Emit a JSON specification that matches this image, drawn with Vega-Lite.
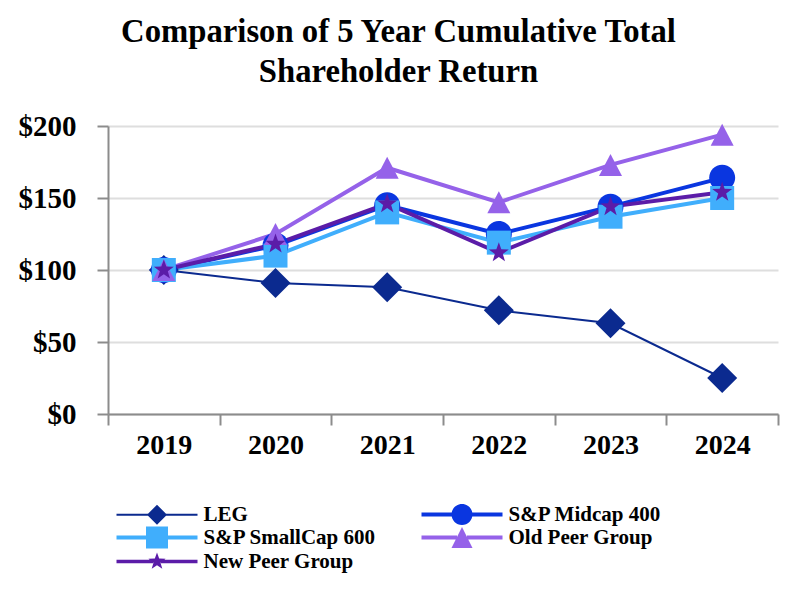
{
  "$schema": "https://vega.github.io/schema/vega-lite/v6.json",
  "width": 670,
  "height": 288,
  "autosize": {"type": "none"},
  "padding": {"left": 108, "top": 126, "right": 22, "bottom": 186},
  "background": "white",
  "title": {
    "text": ["Comparison of 5 Year Cumulative Total", "Shareholder Return"],
    "font": "Liberation Serif",
    "fontSize": 32.7,
    "fontWeight": "bold",
    "color": "black",
    "lineHeight": 40,
    "anchor": "middle",
    "frame": "bounds",
    "offset": 23
  },
  "data": {
    "values": [
      {"series": "LEG", "year": "2019", "value": 100},
      {"series": "LEG", "year": "2020", "value": 91},
      {"series": "LEG", "year": "2021", "value": 88},
      {"series": "LEG", "year": "2022", "value": 72},
      {"series": "LEG", "year": "2023", "value": 63},
      {"series": "LEG", "year": "2024", "value": 25},
      {"series": "S&P Midcap 400", "year": "2019", "value": 100},
      {"series": "S&P Midcap 400", "year": "2020", "value": 117},
      {"series": "S&P Midcap 400", "year": "2021", "value": 145},
      {"series": "S&P Midcap 400", "year": "2022", "value": 125},
      {"series": "S&P Midcap 400", "year": "2023", "value": 144},
      {"series": "S&P Midcap 400", "year": "2024", "value": 164},
      {"series": "S&P SmallCap 600", "year": "2019", "value": 100},
      {"series": "S&P SmallCap 600", "year": "2020", "value": 110},
      {"series": "S&P SmallCap 600", "year": "2021", "value": 140},
      {"series": "S&P SmallCap 600", "year": "2022", "value": 119},
      {"series": "S&P SmallCap 600", "year": "2023", "value": 137},
      {"series": "S&P SmallCap 600", "year": "2024", "value": 150},
      {"series": "Old Peer Group", "year": "2019", "value": 100},
      {"series": "Old Peer Group", "year": "2020", "value": 125},
      {"series": "Old Peer Group", "year": "2021", "value": 171},
      {"series": "Old Peer Group", "year": "2022", "value": 147},
      {"series": "Old Peer Group", "year": "2023", "value": 173},
      {"series": "Old Peer Group", "year": "2024", "value": 194},
      {"series": "New Peer Group", "year": "2019", "value": 100},
      {"series": "New Peer Group", "year": "2020", "value": 118},
      {"series": "New Peer Group", "year": "2021", "value": 146},
      {"series": "New Peer Group", "year": "2022", "value": 112},
      {"series": "New Peer Group", "year": "2023", "value": 144},
      {"series": "New Peer Group", "year": "2024", "value": 154}
    ]
  },
  "encoding": {
    "x": {
      "field": "year",
      "type": "ordinal",
      "title": null,
      "scale": {"type": "band", "paddingInner": 0, "paddingOuter": 0},
      "axis": {
        "labelAngle": 0,
        "tickBand": "extent",
        "labelFont": "Liberation Serif",
        "labelFontSize": 28,
        "labelFontWeight": "bold",
        "labelColor": "black",
        "tickSize": 11,
        "tickColor": "#8c8c8c",
        "tickWidth": 2,
        "domainColor": "#8c8c8c",
        "domainWidth": 2,
        "labelPadding": 6,
        "grid": false
      }
    },
    "y": {
      "field": "value",
      "type": "quantitative",
      "title": null,
      "scale": {"domain": [0, 200], "nice": false},
      "axis": {
        "values": [0, 50, 100, 150, 200],
        "format": "$.0f",
        "labelFont": "Liberation Serif",
        "labelFontSize": 29,
        "labelFontWeight": "bold",
        "labelColor": "black",
        "tickSize": 11,
        "tickColor": "#8c8c8c",
        "tickWidth": 2,
        "domainColor": "#8c8c8c",
        "domainWidth": 2,
        "labelPadding": 21,
        "grid": true,
        "gridColor": "#dedede",
        "gridWidth": 2
      }
    }
  },
  "layer": [
    {
      "transform": [{"filter": "datum.series === 'LEG'"}],
      "mark": {"type": "line", "strokeWidth": 2},
      "encoding": {
        "color": {
          "field": "series", "type": "nominal", "legend": null,
          "scale": {
            "domain": ["LEG", "S&P Midcap 400", "S&P SmallCap 600", "Old Peer Group", "New Peer Group"],
            "range": ["#0b2a8f", "#0a36e0", "#40aefc", "#9562e9", "#5b1ca8"]
          }
        }
      }
    },
    {
      "transform": [{"filter": "datum.series !== 'LEG'"}],
      "mark": {"type": "line", "strokeWidth": 4},
      "encoding": {
        "color": {
          "field": "series", "type": "nominal", "legend": null,
          "scale": {
            "domain": ["LEG", "S&P Midcap 400", "S&P SmallCap 600", "Old Peer Group", "New Peer Group"],
            "range": ["#0b2a8f", "#0a36e0", "#40aefc", "#9562e9", "#5b1ca8"]
          }
        }
      }
    },
    {
      "mark": {"type": "point", "filled": true, "size": 400, "opacity": 1},
      "encoding": {
        "color": {
          "field": "series", "type": "nominal", "legend": null,
          "scale": {
            "domain": ["LEG", "S&P Midcap 400", "S&P SmallCap 600", "Old Peer Group", "New Peer Group"],
            "range": ["#0b2a8f", "#0a36e0", "#40aefc", "#9562e9", "#5b1ca8"]
          }
        },
        "shape": {
          "field": "series", "type": "nominal", "legend": null,
          "scale": {
            "domain": ["LEG", "S&P Midcap 400", "S&P SmallCap 600", "Old Peer Group", "New Peer Group"],
            "range": [
              "M0,-1.5L1.5,0L0,1.5L-1.5,0Z",
              "M-1.3,0A1.3,1.3,0,1,1,1.3,0A1.3,1.3,0,1,1,-1.3,0Z",
              "M-1.2,-1.2H1.2V1.2H-1.2Z",
              "M0,-1.1L1.15,1.1L-1.15,1.1Z",
              "M0,-1.05L0.247,-0.34L0.999,-0.324L0.399,0.13L0.617,0.849L0,0.42L-0.617,0.849L-0.399,0.13L-0.999,-0.324L-0.247,-0.34Z"
            ]
          }
        }
      }
    },
    {
      "transform": [{"filter": "datum.series === 'none'"}],
      "mark": {"type": "point", "filled": true, "size": 400},
      "encoding": {
        "color": {
          "field": "series", "type": "nominal",
          "scale": {
            "domain": ["LEG", "S&P Midcap 400", "S&P SmallCap 600", "Old Peer Group", "New Peer Group"],
            "range": ["#0b2a8f", "#0a36e0", "#40aefc", "#9562e9", "#5b1ca8"]
          },
          "legend": {
            "title": null, "orient": "none", "legendX": 8, "legendY": 378,
            "direction": "horizontal",
            "columns": 2, "columnPadding": 44, "rowPadding": 1, "padding": 0,
            "symbolSize": 400, "symbolStrokeWidth": 0, "symbolOffset": 30.5, "labelOffset": 36,
            "symbolOpacity": 1,
            "labelFont": "Liberation Serif", "labelFontSize": 21, "labelFontWeight": "bold",
            "labelColor": "black", "labelLimit": 400
          }
        },
        "shape": {
          "field": "series", "type": "nominal",
          "scale": {
            "domain": ["LEG", "S&P Midcap 400", "S&P SmallCap 600", "Old Peer Group", "New Peer Group"],
            "range": [
              "M-4.05,-0.1H-0.9V0.1H-4.05Z M0.9,-0.1H4.05V0.1H0.9Z M0,-1L1,0L0,1L-1,0Z",
              "M-4.05,-0.2H-1V0.2H-4.05Z M1,-0.2H4.05V0.2H1Z M-1.05,0A1.05,1.05,0,1,1,1.05,0A1.05,1.05,0,1,1,-1.05,0Z",
              "M-4.05,-0.2H-1.1V0.2H-4.05Z M1.1,-0.2H4.05V0.2H1.1Z M-1.1,-1.1H1.1V1.1H-1.1Z",
              "M-4.05,-0.2H-0.5V0.2H-4.05Z M0.5,-0.2H4.05V0.2H0.5Z M0,-1.05L1.05,1.05L-1.05,1.05Z",
              "M-4.05,-0.18H-0.4V0.18H-4.05Z M0.4,-0.18H4.05V0.18H0.4Z M0,-0.9L0.217,-0.299L0.856,-0.278L0.352,0.114L0.529,0.728L0,0.37L-0.529,0.728L-0.352,0.114L-0.856,-0.278L-0.217,-0.299Z"
            ]
          },
          "legend": {
            "title": null, "orient": "none", "legendX": 8, "legendY": 378,
            "direction": "horizontal",
            "columns": 2, "columnPadding": 44, "rowPadding": 1, "padding": 0,
            "symbolSize": 400, "symbolStrokeWidth": 0, "symbolOffset": 30.5, "labelOffset": 36,
            "symbolOpacity": 1,
            "labelFont": "Liberation Serif", "labelFontSize": 21, "labelFontWeight": "bold",
            "labelColor": "black", "labelLimit": 400
          }
        }
      }
    }
  ],
  "resolve": {"scale": {"color": "independent", "shape": "independent"}},
  "config": {"view": {"stroke": null}}
}
